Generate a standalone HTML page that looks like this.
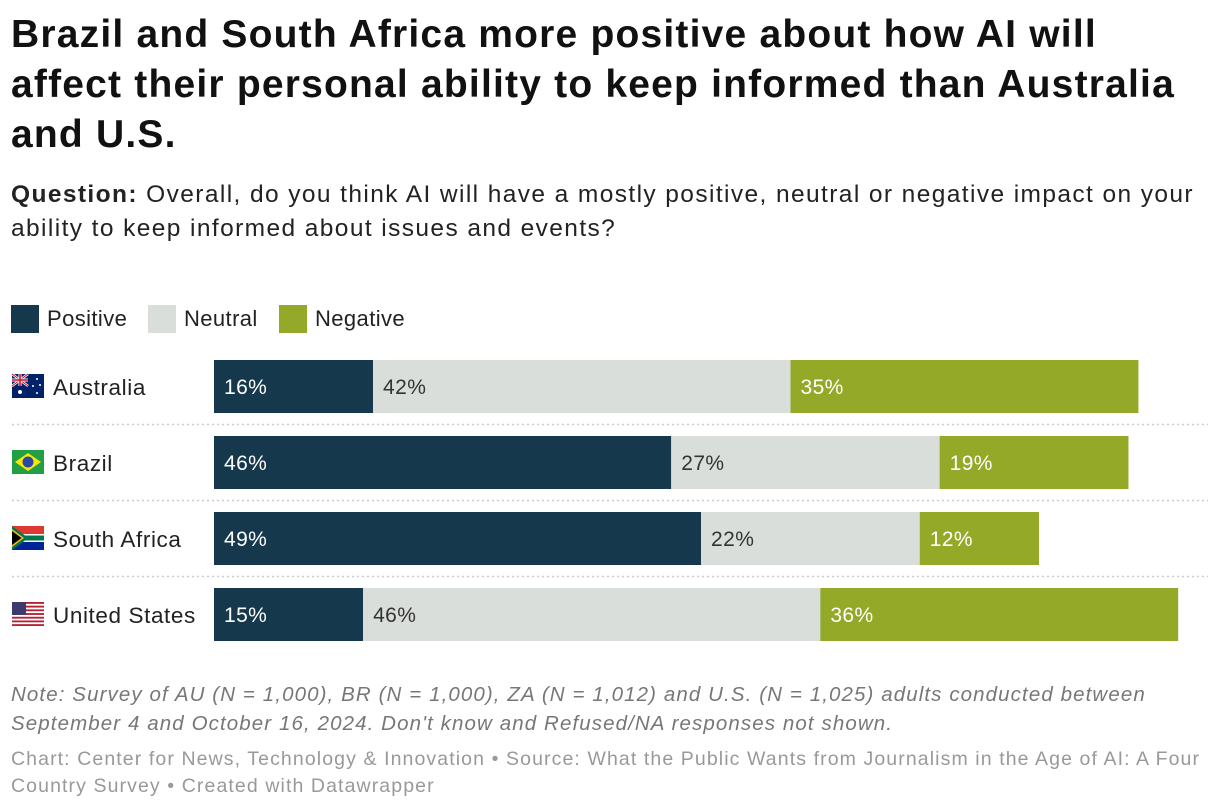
<!DOCTYPE html>
<html><head><meta charset="utf-8"><style>
body{margin:0;width:1220px;height:812px;background:#fff;font-family:"Liberation Sans",Arial,sans-serif;color:#222;position:relative;overflow:hidden}
.abs{position:absolute}
h1{position:absolute;left:11px;top:10px;margin:0;font-size:39px;line-height:50px;font-weight:bold;color:#111;width:1210px;white-space:nowrap;letter-spacing:1.2px}
.sub{left:11px;top:178px;font-size:24.5px;line-height:34px;color:#222;width:1210px;white-space:nowrap;letter-spacing:1.4px}
.leg{top:305px;font-size:22px;display:flex;align-items:center;letter-spacing:0.4px}
.sw{width:28px;height:28px;display:inline-block;margin-right:8px}
.note{left:11px;top:680px;font-size:20.5px;line-height:29px;font-style:italic;color:#777;width:1210px;white-space:nowrap;letter-spacing:1.1px}
.foot{left:11px;top:746px;font-size:19.5px;line-height:27px;color:#999;width:1210px;white-space:nowrap;letter-spacing:1.1px}
</style></head><body>
<h1>Brazil and South Africa more positive about how AI will<br>affect their personal ability to keep informed than Australia<br>and U.S.</h1>
<div class="abs sub"><b>Question:</b> Overall, do you think AI will have a mostly positive, neutral or negative impact on your<br>ability to keep informed about issues and events?</div>
<div class="abs leg" style="left:11px"><span class="sw" style="background:#15384d"></span>Positive</div>
<div class="abs leg" style="left:148px"><span class="sw" style="background:#d9dedb"></span>Neutral</div>
<div class="abs leg" style="left:279px"><span class="sw" style="background:#93a927"></span>Negative</div>
<svg class="abs" style="left:0;top:0" width="1220" height="812" id="chart"></svg>
<div class="abs note">Note: Survey of AU (N = 1,000), BR (N = 1,000), ZA (N = 1,012) and U.S. (N = 1,025) adults conducted between<br>September 4 and October 16, 2024. Don't know and Refused/NA responses not shown.</div>
<div class="abs foot">Chart: Center for News, Technology &amp; Innovation • Source: What the Public Wants from Journalism in the Age of AI: A Four<br>Country Survey • Created with Datawrapper</div>
<script>
const countries=["Australia","Brazil","South Africa","United States"];
const positive=[16,46,49,15];
const neutral=[42,27,22,46];
const negative=[35,19,12,36];
const NS="http://www.w3.org/2000/svg";
const svg=document.getElementById('chart');
const x0=214,scale=9.94,rowTop=360,rowStep=76,barH=53;
const xs=v=>v*scale;
function mk(t,a){const e=document.createElementNS(NS,t);for(const k in a)e.setAttribute(k,a[k]);svg.appendChild(e);return e;}
const flags=[
`<rect width="32" height="24" fill="#012169"/><path d="M0 0L16 12M16 0L0 12" stroke="#fff" stroke-width="2.5"/><path d="M0 0L16 12M16 0L0 12" stroke="#c8102e" stroke-width="1"/><path d="M8 0V12M0 6H16" stroke="#fff" stroke-width="3"/><path d="M8 0V12M0 6H16" stroke="#c8102e" stroke-width="1.6"/><circle cx="8" cy="18" r="2" fill="#fff"/><circle cx="25" cy="5" r="1" fill="#fff"/><circle cx="28" cy="11" r="1" fill="#fff"/><circle cx="25" cy="19" r="1" fill="#fff"/><circle cx="21" cy="12" r="1" fill="#fff"/>`,
`<rect width="32" height="24" fill="#229e45"/><path d="M16 3L29 12L16 21L3 12Z" fill="#f8e509"/><circle cx="16" cy="12" r="5.5" fill="#2b49a3"/>`,
`<rect width="32" height="24" fill="#fff"/><rect width="32" height="8" fill="#de3831"/><rect y="16" width="32" height="8" fill="#002395"/><path d="M0 0L13 9.5H32V14.5H13L0 24Z" fill="#007a4d"/><path d="M0 3L12 12L0 21Z" fill="#ffb612"/><path d="M0 5L9.5 12L0 19Z" fill="#000"/>`,
`<rect width="32" height="24" fill="#fff"/>${[0,2,4,6,8,10,12].map(i=>`<rect y="${i*24/13}" width="32" height="${24/13}" fill="#b22234"/>`).join('')}<rect width="14" height="13" fill="#3c3b6e"/>`
];
countries.forEach((c,i)=>{
  const y=rowTop+i*rowStep;
  const g=mk('g',{transform:`translate(12,${y+14})`});
  
  
  g.innerHTML=flags[i];
  const t=mk('text',{x:53,y:y+35,'font-size':22.5,fill:'#222','letter-spacing':0.6});
  
  
  t.textContent=c;
  const segs=[[positive[i],'#15384d','#fff'],[neutral[i],'#d9dedb','#333'],[negative[i],'#93a927','#fff']];
  let cx=x0;
  segs.forEach((s,j)=>{
    const r=mk('rect',{x:cx,y:y,width:xs(s[0]),height:barH,fill:s[1]});
    
    
    const tt=mk('text',{x:cx+10,y:y+34,'font-size':21,fill:s[2],'letter-spacing':0.4});
    
    
    tt.textContent=s[0]+'%';
    cx+=xs(s[0]);
  });
  if(i<countries.length-1){
    const l=mk('line',{x1:12,x2:1208,y1:y+64.5,y2:y+64.5,stroke:'#ccc','stroke-width':1.5,'stroke-dasharray':'2,3'});
    
    
  }
});
</script>
</body></html>
